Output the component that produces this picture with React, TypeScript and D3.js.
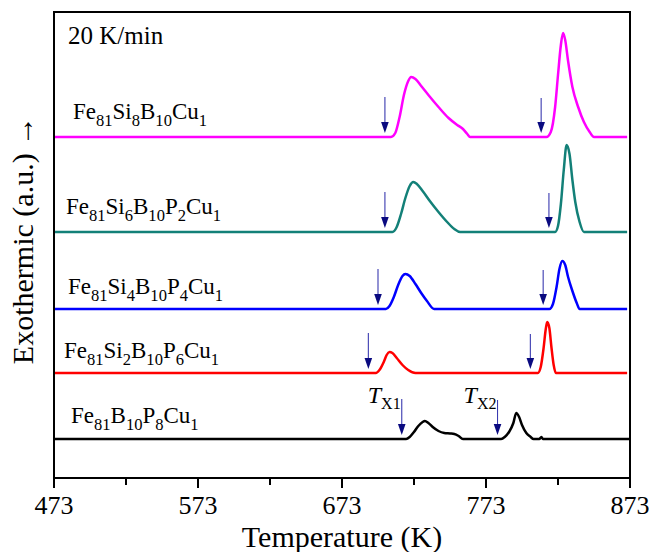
import React from "react";
import * as d3 from "d3";

// ---------- data ----------
const xTicks = [473, 573, 673, 773, 873];
const xMinorTicks = [523, 623, 723, 823];

const compositions = [
  "Fe81Si8B10Cu1",
  "Fe81Si6B10P2Cu1",
  "Fe81Si4B10P4Cu1",
  "Fe81Si2B10P6Cu1",
  "Fe81B10P8Cu1",
];
const seriesColors = ["#ff00ff", "#138078", "#0000ff", "#ff0000", "#000000"];
// vertical offsets (a.u.) of each DSC trace
const offsets = [341, 246, 169, 105, 39];

// temperature (K) / heat flow (a.u.)
const si8T = [473, 707, 710, 713, 716, 719, 721, 724, 728, 733, 740, 747, 753, 757, 760, 762, 815, 818, 821, 823, 825, 826.5, 828, 830, 833, 837, 841, 845, 848, 871];
const si8Y = [0, 0, 4, 20, 42, 56, 60, 58, 51, 42, 30, 19, 12, 8, 3, 0, 0, 5, 30, 62, 92, 104, 97, 76, 50, 30, 15, 5, 0, 0];

const si6T = [473, 708, 711, 714, 717, 720, 722.5, 725, 729, 734, 740, 746, 751, 755, 821, 823, 825, 827, 829, 831, 833, 835, 838, 841, 871];
const si6Y = [0, 0, 5, 18, 34, 46, 50, 48, 41, 31, 20, 10, 3, 0, 0, 6, 28, 62, 87, 78, 52, 30, 10, 0, 0];

const si4T = [473, 703.5, 706, 709, 712, 715, 717, 720, 724, 728, 732, 737, 817, 819.5, 822, 824, 826, 828, 830, 833, 836, 838, 871];
const si4Y = [0, 0, 3, 12, 24, 33, 35, 33, 25, 16, 8, 0, 0, 5, 22, 40, 48, 44, 32, 18, 6, 0, 0];

const si2T = [473, 696.5, 699, 702, 704, 706, 708, 711, 715, 719, 724, 809, 811, 813, 814.5, 815.5, 817, 818.5, 820, 821.5, 871];
const si2Y = [0, 0, 3, 11, 18, 21, 20, 15, 8, 3, 0, 0, 6, 25, 44, 51, 45, 25, 8, 0, 0];

const si0T = [473, 717.5, 720, 723, 726, 729, 730.5, 733, 736, 740, 744, 748, 751, 754, 757, 783.5, 786, 789, 792, 794, 796, 798, 801, 804, 806, 810, 811.5, 812.5, 814, 873];
const si0Y = [0, 0, 2, 7, 13, 17, 18, 16, 12, 8, 6, 5.5, 5, 3, 0, 0, 2, 7, 16, 26, 22, 14, 6, 2, 0, 0, 2, 0, 0, 0];

const seriesT = [si8T, si6T, si4T, si2T, si0T];
const seriesY = [si8Y, si6Y, si4Y, si2Y, si0Y];

// onset temperatures Tx1, Tx2 marked by arrows
const tx1 = [702.8, 702.8, 698, 691.3, 714.5];
const tx2 = [811.3, 816.7, 812.7, 803.8, 781];

const rateLabel = "20 K/min";
const xTitle = "Temperature (K)";
const yTitle = "Exothermic (a.u.) \u2192";

// ---------- layout ----------
const W = 649;
const H = 552;
const L = 54, R = 630, T = 12, B = 478;
const FONT = "'Liberation Serif', 'Times New Roman', serif";

const labelPos = [
  { x: 73, dy: 18 },
  { x: 66, dy: 18 },
  { x: 68, dy: 15 },
  { x: 64, dy: 15 },
  { x: 71, dy: 16 },
];

function Formula({ text, x, y, size }: { text: string; x: number; y: number; size: number }) {
  const parts = text.match(/[A-Za-z]+|\d+/g) || [];
  const sub = size * 0.72;
  const shift = size * 0.3;
  let down = false;
  return (
    <text x={x} y={y} fontFamily={FONT} fontSize={size} fill="#000">
      {parts.map((p, i) => {
        const isNum = /\d/.test(p);
        let dy = 0;
        if (isNum && !down) { dy = shift; down = true; }
        else if (!isNum && down) { dy = -shift; down = false; }
        return (
          <tspan key={i} dy={dy} fontSize={isNum ? sub : size}>{p}</tspan>
        );
      })}
    </text>
  );
}

function Arrow({ x, yTip, len }: { x: number; yTip: number; len: number }) {
  const hh = 11, hw = 3.8;
  return (
    <g>
      <line x1={x} x2={x} y1={yTip - len} y2={yTip - hh + 1} stroke="#3a3ab0" strokeWidth={1.1} />
      <path d={`M${x - hw},${yTip - hh} L${x + hw},${yTip - hh} L${x},${yTip} Z`} fill="#0a0a80" />
    </g>
  );
}

export default function App() {
  const x = d3.scaleLinear().domain([473, 873]).range([L, R]);
  const y = d3.scaleLinear().domain([0, B - T]).range([B, T]);
  const line = d3
    .line<[number, number]>()
    .x((d) => x(d[0]))
    .y((d) => y(d[1]))
    .curve(d3.curveMonotoneX);

  return (
    <svg width={W} height={H} style={{ position: "absolute", left: 0, top: 0, background: "#fff" }}>
      <rect x={0} y={0} width={W} height={H} fill="#fff" />
      {seriesT.map((ts, i) => {
        const pts = ts.map((t, j) => [t, seriesY[i][j] + offsets[i]] as [number, number]);
        return (
          <path key={i} d={line(pts) || ""} fill="none" stroke={seriesColors[i]} strokeWidth={2.5} strokeLinejoin="round" />
        );
      })}
      {tx1.map((t, i) => (
        <Arrow key={"a" + i} x={x(t)} yTip={y(offsets[i]) - 4} len={36} />
      ))}
      {tx2.map((t, i) => (
        <Arrow key={"b" + i} x={x(t)} yTip={y(offsets[i]) - 4} len={35} />
      ))}
      {compositions.map((c, i) => (
        <Formula key={c} text={c} x={labelPos[i].x} y={y(offsets[i]) - labelPos[i].dy} size={23} />
      ))}
      <text x={68} y={44} fontFamily={FONT} fontSize={25}>{rateLabel}</text>
      {/* Tx labels */}
      <text x={x(tx1[4]) - 34} y={y(offsets[4]) - 36} fontFamily={FONT} fontSize={24}>
        <tspan fontStyle="italic">T</tspan>
        <tspan dy={6} fontSize={16}>X1</tspan>
      </text>
      <text x={x(tx2[4]) - 34} y={y(offsets[4]) - 36} fontFamily={FONT} fontSize={24}>
        <tspan fontStyle="italic">T</tspan>
        <tspan dy={6} fontSize={16}>X2</tspan>
      </text>
      {/* frame */}
      <rect x={L} y={T} width={R - L} height={B - T} fill="none" stroke="#000" strokeWidth={2} />
      {xTicks.map((t) => (
        <g key={t}>
          <line x1={x(t)} x2={x(t)} y1={B} y2={B + 10} stroke="#000" strokeWidth={2} />
          <text x={x(t)} y={B + 36} textAnchor="middle" fontFamily={FONT} fontSize={26}>{t}</text>
        </g>
      ))}
      {xMinorTicks.map((t) => (
        <line key={t} x1={x(t)} x2={x(t)} y1={B} y2={B + 7} stroke="#000" strokeWidth={2} />
      ))}
      <text x={(L + R) / 2} y={547} textAnchor="middle" fontFamily={FONT} fontSize={30}>{xTitle}</text>
      <text transform={`translate(33, 240) rotate(-90)`} textAnchor="middle" fontFamily={FONT} fontSize={30}>{yTitle}</text>
    </svg>
  );
}
